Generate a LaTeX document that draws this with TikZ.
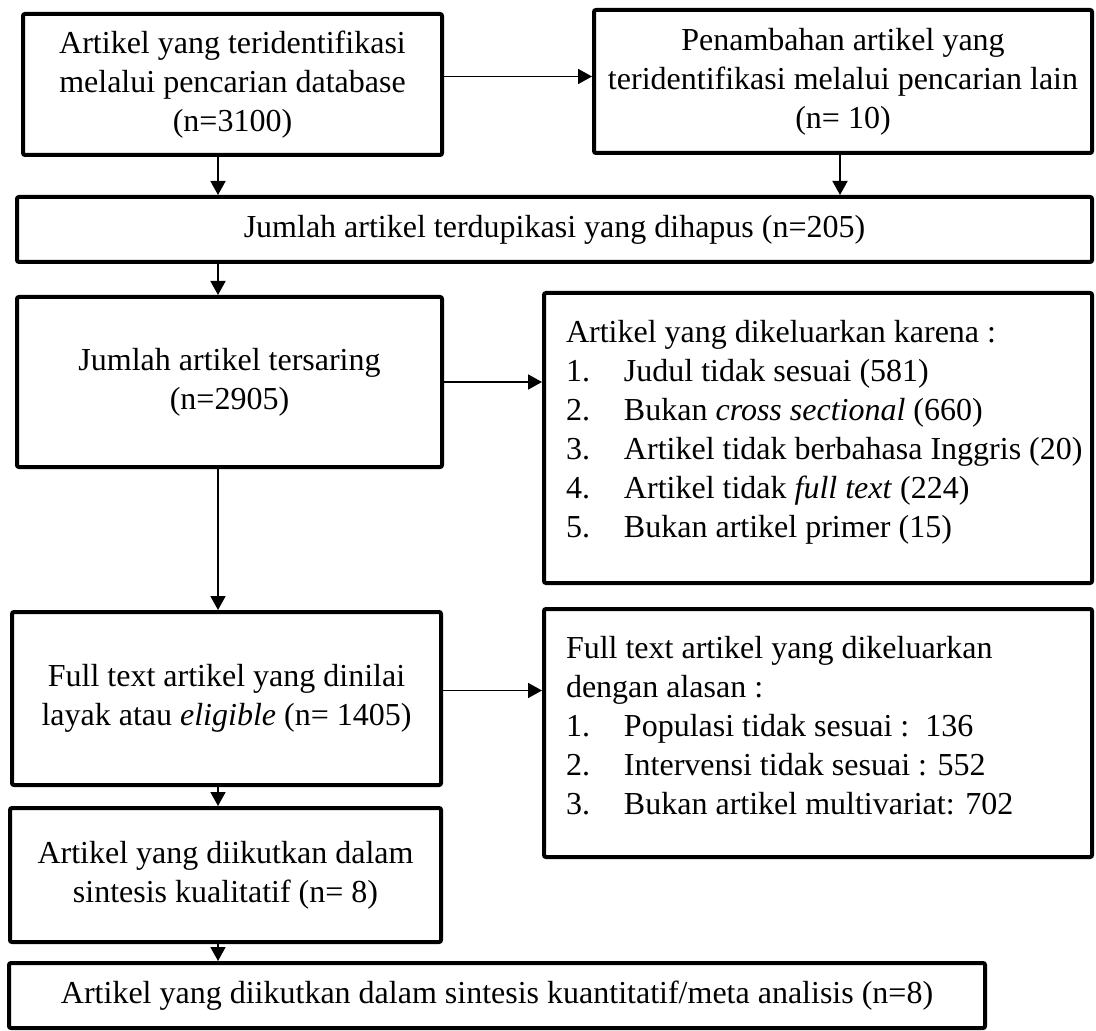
\documentclass[tikz,border=0pt]{standalone}
\usepackage{fontspec}
\setmainfont{Liberation Serif}
\usetikzlibrary{arrows.meta}

\newcommand{\numitem}[2]{\makebox[29pt][l]{#1}#2}

\begin{document}
\begin{tikzpicture}[
  x=0.5pt, y=-0.5pt,
  flowbox/.style={rectangle, draw, line width=2pt, rounded corners=1pt,
    inner sep=0pt, align=center, font=\fontsize{16pt}{19.5pt}\selectfont},
  listbox/.style={flowbox, align=left},
  arr/.style={-{Triangle[length=7pt, width=7.5pt]}, line width=0.85pt}
]
\useasboundingbox (0,0) rectangle (1096,1031);

% Identification
\node[flowbox, minimum width=209.5pt, minimum height=70.5pt] (dbsearch) at (232.5,84.5) {Artikel yang teridentifikasi\\melalui pencarian database\\(n=3100)};
\node[flowbox, minimum width=249pt, minimum height=71.5pt] (othersearch) at (843,81.5) {Penambahan artikel yang\\teridentifikasi melalui pencarian lain\\(n= 10)};

% Duplicates removed
\node[flowbox, minimum width=537.5pt, minimum height=32.5pt] (dup) at (554.5,229.5) {Jumlah artikel terdupikasi yang dihapus (n=205)};

% Screening
\node[flowbox, minimum width=212.5pt, minimum height=85pt] (screen) at (229.5,382) {Jumlah artikel tersaring\\(n=2905)};
\node[listbox, minimum width=274pt, minimum height=145pt] (excluded) at (818,438) {\parbox[c][118pt][t]{272pt}{\leftskip=10pt
  Artikel yang dikeluarkan karena :\\
  \numitem{1.}{Judul tidak sesuai (581)}\\
  \numitem{2.}{Bukan \textit{cross sectional} (660)}\\
  \numitem{3.}{Artikel tidak berbahasa Inggris (20)}\\
  \numitem{4.}{Artikel tidak \textit{full text} (224)}\\
  \numitem{5.}{Bukan artikel primer (15)}}};

% Eligibility
\node[flowbox, minimum width=214.5pt, minimum height=86.5pt] (eligible) at (226.5,698.5) {Full text artikel yang dinilai\\layak atau \textit{eligible} (n= 1405)};
\node[listbox, minimum width=274pt, minimum height=124pt] (fulltextout) at (818,733) {\parbox[c][97pt][t]{272pt}{\leftskip=10pt
  Full text artikel yang dikeluarkan\\
  dengan alasan :\\
  \numitem{1.}{Populasi tidak sesuai :\ \ 136}\\
  \numitem{2.}{Intervensi tidak sesuai : 552}\\
  \numitem{3.}{Bukan artikel multivariat: 702}}};

% Included
\node[flowbox, minimum width=215.5pt, minimum height=67pt] (qual) at (225.5,875) {Artikel yang diikutkan dalam\\sintesis kualitatif (n= 8)};
\node[flowbox, minimum width=488pt, minimum height=32.5pt] (quant) at (497,995.5) {Artikel yang diikutkan dalam sintesis kuantitatif/meta analisis (n=8)};

% Connectors
\coordinate (spine) at (218,0);
\draw[arr] ([yshift=4pt]dbsearch.east) -- ([yshift=4pt]dbsearch.east -| othersearch.west);
\draw[arr] (spine |- dbsearch.south) -- (spine |- dup.north);
\draw[arr] ([xshift=-1.5pt]othersearch.south) -- ([xshift=-1.5pt]othersearch.south |- dup.north);
\draw[arr] (spine |- dup.south) -- (spine |- screen.north);
\draw[arr] (screen.east) -- (screen.east -| excluded.west);
\draw[arr] (spine |- screen.south) -- (spine |- eligible.north);
\draw[arr] ([yshift=4pt]eligible.east) -- ([yshift=4pt]eligible.east -| fulltextout.west);
\draw[arr] (spine |- eligible.south) -- (spine |- qual.north);
\draw[arr] (spine |- qual.south) -- (spine |- quant.north);

\end{tikzpicture}
\end{document}
